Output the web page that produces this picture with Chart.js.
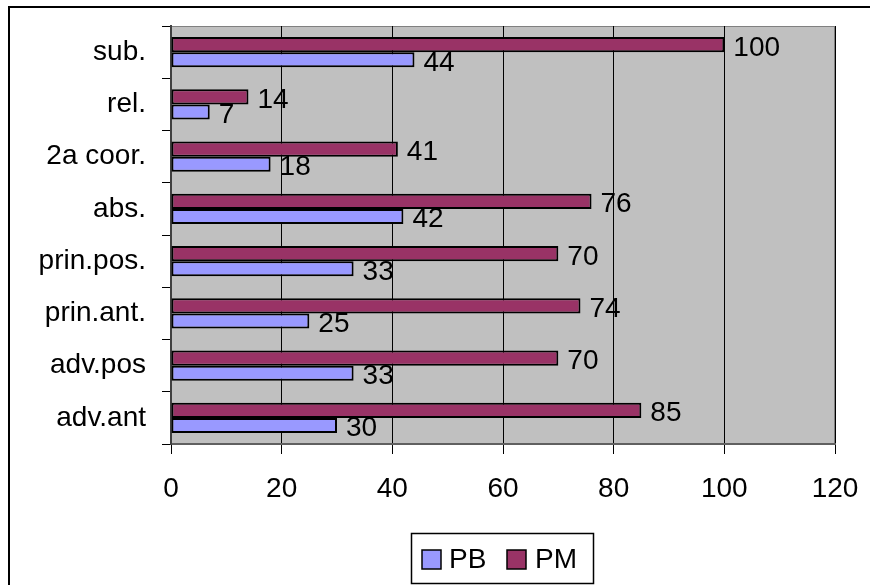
<!DOCTYPE html>
<html>
<head>
<meta charset="utf-8">
<script src="https://cdn.jsdelivr.net/npm/chart.js@4/dist/chart.umd.min.js"></script>
<style>
  html, body { margin: 0; padding: 0; background: #fff; }
  #wrap { width: 870px; height: 585px; }
</style>
</head>
<body>
<div id="wrap"><canvas id="c" width="870" height="585"></canvas></div>
<script>
const categories = ['sub.', 'rel.', '2a coor.', 'abs.', 'prin.pos.', 'prin.ant.', 'adv.pos', 'adv.ant'];
const pbValues = [44, 7, 18, 42, 33, 25, 33, 30];
const pmValues = [100, 14, 41, 76, 70, 74, 70, 85];
const xTicks = [0, 20, 40, 60, 80, 100, 120];
const seriesNames = ['PB', 'PM'];
const FONT = '"Liberation Sans", Arial, sans-serif';

const frame = {
  id: 'frame',
  beforeDraw(chart) {
    const ctx = chart.ctx;
    ctx.save();
    ctx.fillStyle = '#fff';
    ctx.fillRect(0, 0, chart.width, chart.height);
    ctx.fillStyle = '#000';
    ctx.fillRect(8, 6, chart.width, 2);
    ctx.fillRect(8, 6, 2, chart.height);
    const a = chart.chartArea;
    ctx.fillStyle = '#C0C0C0';
    ctx.fillRect(a.left, a.top, a.right - a.left, a.bottom - a.top);
    ctx.strokeStyle = '#808080';
    ctx.lineWidth = 1;
    ctx.strokeRect(a.left + 0.5, a.top + 0.5, a.right - a.left - 1, a.bottom - a.top - 1);
    ctx.restore();
  },
  afterDatasetsDraw(chart) {
    const ctx = chart.ctx;
    ctx.save();
    ctx.font = '28px ' + FONT;
    ctx.fillStyle = '#000';
    ctx.textAlign = 'left';
    ctx.textBaseline = 'alphabetic';
    chart.data.datasets.forEach((ds, i) => {
      const meta = chart.getDatasetMeta(i);
      meta.data.forEach((el, j) => {
        ctx.fillText(String(ds.data[j]), el.x + 9, el.y + 11);
      });
    });
    ctx.restore();
  },
  afterDraw(chart) {
    const ctx = chart.ctx;
    ctx.save();
    ctx.strokeStyle = '#000';
    ctx.lineWidth = 1.5;
    ctx.strokeRect(411.5, 533.5, 182, 50);
    const items = [
      { name: seriesNames[0], color: '#9999FF', bx: 422, tx: 449 },
      { name: seriesNames[1], color: '#993366', bx: 507, tx: 535 }
    ];
    ctx.font = '28px ' + FONT;
    ctx.textBaseline = 'alphabetic';
    ctx.textAlign = 'left';
    items.forEach(it => {
      ctx.fillStyle = it.color;
      ctx.fillRect(it.bx, 550, 19, 19);
      ctx.strokeStyle = '#000';
      ctx.lineWidth = 1.5;
      ctx.strokeRect(it.bx, 550, 19, 19);
      ctx.fillStyle = '#000';
      ctx.fillText(it.name, it.tx, 568);
    });
    ctx.restore();
  }
};

new Chart(document.getElementById('c'), {
  type: 'bar',
  data: {
    labels: categories,
    datasets: [
      { label: seriesNames[1], data: pmValues, backgroundColor: '#993366', borderColor: '#000', borderWidth: 2, borderSkipped: false },
      { label: seriesNames[0], data: pbValues, backgroundColor: '#9999FF', borderColor: '#000', borderWidth: 2, borderSkipped: false }
    ]
  },
  options: {
    indexAxis: 'y',
    responsive: false,
    animation: false,
    devicePixelRatio: 1,
    layout: { padding: { top: 26, right: 35, left: 0, bottom: 0 } },
    datasets: { bar: { categoryPercentage: 0.58, barPercentage: 1.0 } },
    plugins: { legend: { display: false }, tooltip: { enabled: false } },
    scales: {
      x: {
        min: 0, max: 120,
        afterBuildTicks(scale) { scale.ticks = xTicks.map(v => ({ value: v })); },
        afterFit(scale) { scale.height = 141; scale.paddingLeft = 0; scale.paddingRight = 0; },
        ticks: { color: '#000', font: { family: FONT, size: 28 }, padding: 18, maxRotation: 0 },
        grid: { color: '#000', lineWidth: 1, tickLength: 10, drawOnChartArea: true },
        border: { color: '#606060', width: 2 }
      },
      y: {
        afterFit(scale) { scale.width = 171; scale.paddingTop = 0; scale.paddingBottom = 0; },
        ticks: { color: '#000', font: { family: FONT, size: 28 }, padding: 16 },
        grid: { color: '#000', lineWidth: 1, tickLength: 9, drawOnChartArea: false, offset: true },
        border: { color: '#404040', width: 2 }
      }
    }
  },
  plugins: [frame]
});
</script>
</body>
</html>
